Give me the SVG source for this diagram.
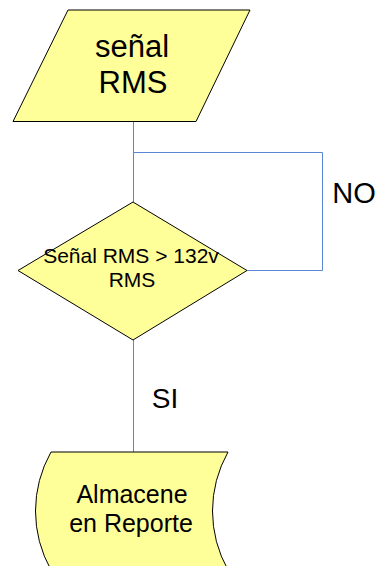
<svg xmlns="http://www.w3.org/2000/svg" width="378" height="566" viewBox="0 0 378 566">
<style>
.shape{fill:#ffff99;stroke:#000;stroke-width:1}
.conn{fill:none;stroke:#5b86d2;stroke-width:1}
text{font-family:"Liberation Sans",Arial,sans-serif;fill:#000;text-anchor:middle}
</style>
<rect width="378" height="566" fill="#fff"/>
<g id="connectors">
<polyline class="conn" points="133.5,121.5 133.5,202"/>
<polyline class="conn" points="133.5,152.5 322.5,152.5 322.5,270.5 247,270.5"/>
<polyline class="conn" points="133.5,340 133.5,452"/>
<text x="354" y="203" font-size="29">NO</text>
<text x="165" y="408" font-size="28">SI</text>
</g>
<g id="input">
<polygon class="shape" points="68,10 250,10 196,121.5 13,121.5"/>
<text x="132" y="57" font-size="31">señal</text>
<text x="133" y="93" font-size="31">RMS</text>
</g>
<g id="decision">
<polygon class="shape" points="133,202 247,270.5 133,340 18,270.5"/>
<text x="131" y="263" font-size="21">Señal RMS &gt; 132v</text>
<text x="132" y="287" font-size="21">RMS</text>
</g>
<g id="store">
<path class="shape" d="M51,452 L228,452 A120,120 0 0 0 228,570 L51,570 A120,120 0 0 1 51,452 Z"/>
<text x="132" y="503" font-size="25">Almacene</text>
<text x="131" y="532" font-size="25">en Reporte</text>
</g>
</svg>
